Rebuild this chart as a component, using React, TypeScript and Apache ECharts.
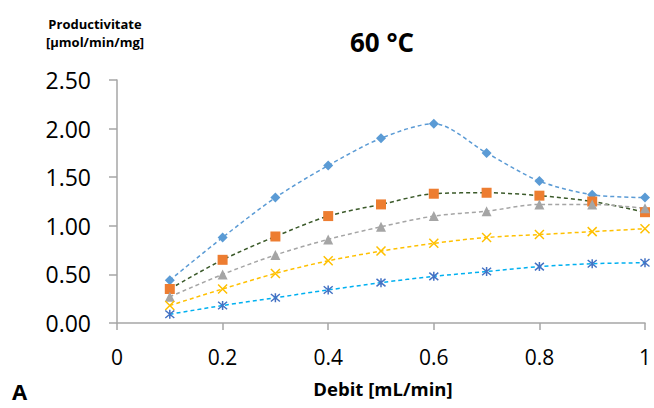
import React, { useEffect, useRef } from "react";
import * as echarts from "echarts";

const flowRates = [0.1, 0.2, 0.3, 0.4, 0.5, 0.6, 0.7, 0.8, 0.9, 1.0];
const seriesDiamond = [0.44, 0.88, 1.29, 1.62, 1.9, 2.05, 1.75, 1.46, 1.32, 1.29];
const seriesSquare = [0.35, 0.65, 0.89, 1.1, 1.22, 1.33, 1.34, 1.31, 1.25, 1.14];
const seriesTriangle = [0.27, 0.5, 0.7, 0.86, 0.99, 1.1, 1.15, 1.22, 1.22, 1.18];
const seriesCross = [0.18, 0.35, 0.51, 0.64, 0.74, 0.82, 0.88, 0.91, 0.94, 0.97];
const seriesStar = [0.09, 0.18, 0.26, 0.34, 0.415, 0.48, 0.53, 0.58, 0.61, 0.62];

const titleText = "60 °C";
const yNameLines = ["Productivitate", "[µmol/min/mg]"];
const xName = "Debit [mL/min]";
const panelLabel = "A";

const FONT = "'Open Sans', 'Noto Sans', sans-serif";

const pairs = (ys: number[]) => flowRates.map((x, i) => [x, ys[i]]);

const X_PATH = "path://M0,0L10,10M10,0L0,10";
const STAR_PATH = "path://M0,0L10,10M10,0L0,10M5,-1L5,11";

export default function App() {
  const ref = useRef<HTMLDivElement>(null);
  useEffect(() => {
    if (!ref.current) return;
    const chart = echarts.init(ref.current, undefined, { renderer: "svg" });
    const dash = [4, 3];
    const mk = (
      name: string,
      ys: number[],
      symbol: string,
      size: number,
      markerColor: string,
      lineColor: string,
      stroked = false
    ) => ({
      name,
      type: "line",
      data: pairs(ys),
      smooth: 0.3,
      symbol,
      symbolSize: size,
      showAllSymbol: true,
      lineStyle: { color: lineColor, width: 1.5, type: dash },
      itemStyle: stroked
        ? { color: "rgba(0,0,0,0)", borderColor: markerColor, borderWidth: 1.5 }
        : { color: markerColor, borderWidth: 0 },
      emphasis: { disabled: true },
      z: 2,
    });
    const txt = (
      text: string,
      x: number,
      y: number,
      fontSize: number,
      align = "center"
    ) => ({
      type: "text",
      x,
      y,
      style: {
        text,
        fontSize,
        fontWeight: "bold",
        fontFamily: FONT,
        fill: "#000",
        align,
        verticalAlign: "middle",
      },
    });
    chart.setOption({
      animation: false,
      backgroundColor: "#ffffff",
      grid: { left: 117, right: 5, top: 80, bottom: 85, containLabel: false },
      xAxis: {
        type: "value",
        min: 0,
        max: 1,
        interval: 0.2,
        axisLine: { show: true, lineStyle: { color: "#A6A6A6", width: 1.5 } },
        axisTick: { show: true, length: 7, lineStyle: { color: "#A6A6A6", width: 1.5 } },
        axisLabel: { color: "#000", fontSize: 21, fontFamily: FONT, margin: 23 },
        splitLine: { show: false },
      },
      yAxis: {
        type: "value",
        min: 0,
        max: 2.5,
        interval: 0.5,
        axisLine: { show: true, lineStyle: { color: "#A6A6A6", width: 1.5 } },
        axisTick: { show: true, length: 8, lineStyle: { color: "#A6A6A6", width: 1.5 } },
        axisLabel: {
          color: "#000",
          fontSize: 23,
          fontFamily: FONT,
          margin: 26,
          formatter: (v: number) => v.toFixed(2),
        },
        splitLine: { show: false },
      },
      series: [
        mk("s1", seriesDiamond, "diamond", 10, "#5B9BD5", "#5B9BD5"),
        mk("s2", seriesSquare, "rect", 10, "#ED7D31", "#3B5A2A"),
        mk("s3", seriesTriangle, "triangle", 10, "#A5A5A5", "#A5A5A5"),
        mk("s4", seriesCross, X_PATH, 9, "#FFC000", "#FFC000", true),
        mk("s5", seriesStar, STAR_PATH, 9, "#4472C4", "#00B0F0", true),
      ],
      graphic: [
        txt(titleText, 382, 42, 26),
        txt(yNameLines[0], 95, 24, 13),
        txt(yNameLines[1], 95, 42, 13),
        txt(xName, 383, 388, 18.5),
        txt(panelLabel, 12, 391, 22, "left"),
      ],
    });
    return () => chart.dispose();
  }, []);
  return (
    <div
      ref={ref}
      style={{ position: "fixed", left: 0, top: 0, width: 654, height: 408 }}
    />
  );
}
